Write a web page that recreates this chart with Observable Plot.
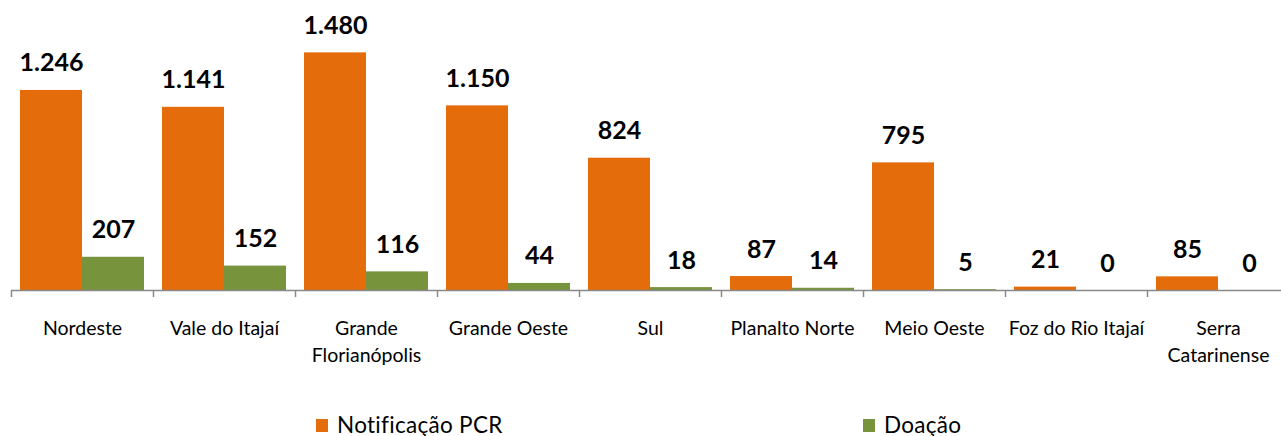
<!DOCTYPE html>
<html>
<head>
<meta charset="utf-8">
<script src="https://cdn.jsdelivr.net/npm/d3@7"></script>
<script src="https://cdn.jsdelivr.net/npm/@observablehq/plot@0.6"></script>
<style>
  html, body { margin: 0; padding: 0; background: #fff; }
  #chart { width: 1281px; overflow: hidden; }
  #legend { position: relative; width: 1281px; height: 56px; font-family: Lato, sans-serif; font-size: 22.5px; letter-spacing: 0.3px; color: #000; }
  .item { position: absolute; top: 0; height: 56px; }
  .sw { position: absolute; width: 12px; height: 13px; top: 39px; }
  .lb { position: absolute; left: 21px; top: 0; line-height: 1; white-space: nowrap; }
</style>
</head>
<body>
<div id="chart"></div>
<div id="legend"></div>
<script>
const regions = ["Nordeste", "Vale do Itajaí", "Grande Florianópolis", "Grande Oeste", "Sul", "Planalto Norte", "Meio Oeste", "Foz do Rio Itajaí", "Serra Catarinense"];
const tickLabels = ["Nordeste", "Vale do Itajaí", "Grande\nFlorianópolis", "Grande Oeste", "Sul", "Planalto Norte", "Meio Oeste", "Foz do Rio Itajaí", "Serra\nCatarinense"];
const notificacaoPCR = [1246, 1141, 1480, 1150, 824, 87, 795, 21, 85];
const doacao = [207, 152, 116, 44, 18, 14, 5, 0, 0];
const seriesNames = ["Notificação PCR", "Doação"];
const seriesColors = ["#E46C0A", "#77933C"];

const fmt = d3.formatLocale({decimal: ",", thousands: ".", grouping: [3], currency: ["R$", ""]}).format(",d");
const pcrRows = regions.map((r, i) => ({region: r, value: notificacaoPCR[i]}));
const doaRows = regions.map((r, i) => ({region: r, value: doacao[i]}));
const labelOf = new Map(regions.map((r, i) => [r, tickLabels[i]]));

const plot = Plot.plot({
  width: 1281,
  height: 380,
  marginTop: 1,
  marginBottom: 90,
  marginLeft: 11,
  marginRight: 0,
  style: {fontFamily: "Lato, sans-serif", color: "#000", background: "#fff", overflow: "visible"},
  x: {type: "band", domain: regions, range: [11, 1289], padding: 0},
  y: {domain: [0, 1800], range: [290, 1], axis: null},
  marks: [
    Plot.barY(pcrRows, {x: "region", y: "value", fill: seriesColors[0], insetLeft: 9, insetRight: 71}),
    Plot.barY(doaRows, {x: "region", y: "value", fill: seriesColors[1], insetLeft: 71, insetRight: 9}),
    Plot.ruleY([0], {stroke: "#898989", strokeWidth: 1.5}),
    Plot.ruleX(regions, {x: d => d, dx: -71, y1: 0, y2: -43.6, stroke: "#898989", strokeWidth: 1.5}),
    Plot.text(pcrRows, {x: "region", y: "value", text: d => fmt(d.value), dx: -31, dy: -19, lineAnchor: "bottom", fontSize: 25, fontWeight: "bold", fill: "#000"}),
    Plot.text(doaRows, {x: "region", y: "value", text: d => fmt(d.value), dx: 31, dy: -19, lineAnchor: "bottom", fontSize: 25, fontWeight: "bold", fill: "#000"}),
    Plot.axisX({tickSize: 0, tickPadding: 26, fontSize: 19.5, lineHeight: 1.36, tickFormat: d => labelOf.get(d), label: null})
  ]
});
document.getElementById("chart").appendChild(plot);

const legend = document.getElementById("legend");
const lx = [316, 863];
seriesNames.forEach((name, i) => {
  const it = document.createElement("div");
  it.className = "item";
  it.style.left = lx[i] + "px";
  it.innerHTML = `<div class="sw" style="background:${seriesColors[i]}"></div><div class="lb" style="top:34px">${name}</div>`;
  legend.appendChild(it);
});
</script>
</body>
</html>
